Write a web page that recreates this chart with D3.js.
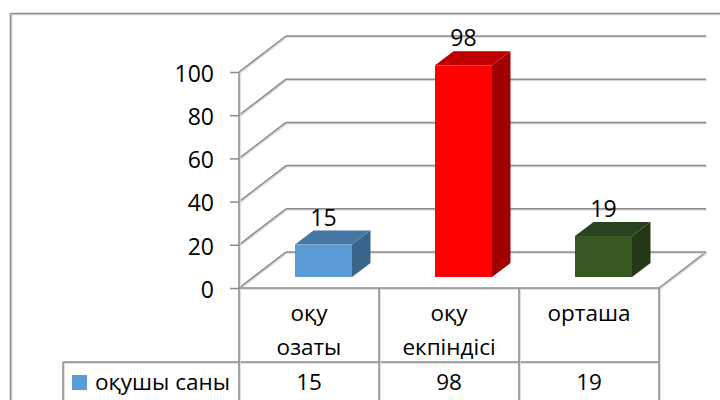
<!DOCTYPE html>
<html>
<head>
<meta charset="utf-8">
<script src="https://cdn.jsdelivr.net/npm/d3@7"></script>
<style>
  body { margin: 0; background: #fff; }
  svg { display: block; }
  text { font-family: "Open Sans", sans-serif; fill: #000; }
</style>
</head>
<body>
<svg id="chart" width="720" height="400"></svg>
<script>
var categories = [["оқу", "озаты"], ["оқу", "екпіндісі"], ["орташа"]];
var values = [15, 98, 19];
var faceColors = ["#5b9bd5", "#ff0000", "#385723"];
var topColors = ["#4577a3", "#c00000", "#2b4220"];
var sideColors = ["#3a6489", "#a00000", "#243818"];
var yTicks = [0, 20, 40, 60, 80, 100];
var seriesName = "оқушы саны";

var svg = d3.select("#chart"),
  lineColor = "#8c8c8c",
  shadowColor = "#d6d6d6",
  depth = {x: 47, y: -36},
  barInset = {x: 14.5, y: -11},
  barDepth = {x: 18.5, y: -14};

var x = d3.scaleBand()
  .domain(d3.range(categories.length))
  .range([239, 659]);

var y = d3.scaleLinear()
  .domain([0, 100])
  .range([288, 72]);

// every rule in the picture has a soft light edge next to it
function line(x1, y1, x2, y2) {
  svg.append("line")
    .attr("x1", x1 + 1).attr("y1", y1 + 1)
    .attr("x2", x2 + 1).attr("y2", y2 + 1)
    .attr("stroke", shadowColor)
    .attr("stroke-width", 1.5);
  svg.append("line")
    .attr("x1", x1).attr("y1", y1)
    .attr("x2", x2).attr("y2", y2)
    .attr("stroke", lineColor)
    .attr("stroke-width", 1.5);
}

// outer frame, right side is cut off
line(10.5, 13.5, 720, 13.5);
line(10.5, 13.5, 10.5, 400);

// walls and floor
line(x.range()[1], y(0), x.range()[1] + depth.x, y(0) + depth.y);

yTicks.forEach(function(t) {
  line(x.range()[0], y(t), x.range()[0] + depth.x, y(t) + depth.y);
  line(x.range()[0] + depth.x, y(t) + depth.y, x.range()[1] + depth.x, y(t) + depth.y);
});

// value axis
line(x.range()[0], y(100), x.range()[0], y(0));
var axis = svg.append("g")
  .attr("class", "axis axis--y")
  .attr("transform", "translate(" + x.range()[0] + ",0)")
  .call(d3.axisLeft(y).tickValues(yTicks).tickSize(9).tickPadding(16));
axis.select(".domain").remove();
axis.selectAll("line").attr("stroke", lineColor).attr("stroke-width", 1.5);
axis.selectAll("text").style("font-size", "23px").attr("dy", "0.4em").attr("fill", "#000");

// bars
var bars = svg.selectAll(".bar")
  .data(values)
  .enter().append("g")
    .attr("class", "bar");

var barWidth = 57;

function barX(i) {
  return x(i) + x.bandwidth() / 2 + barInset.x - barWidth / 2;
}

bars.append("path")
  .attr("fill", function(d, i) { return sideColors[i]; })
  .attr("d", function(d, i) {
    var r = barX(i) + barWidth, t = y(d) + barInset.y, b = y(0) + barInset.y;
    return "M" + r + "," + t + "L" + (r + barDepth.x) + "," + (t + barDepth.y) +
      "V" + (b + barDepth.y) + "L" + r + "," + b + "Z";
  });

bars.append("path")
  .attr("fill", function(d, i) { return topColors[i]; })
  .attr("d", function(d, i) {
    var l = barX(i), t = y(d) + barInset.y;
    return "M" + l + "," + t + "L" + (l + barDepth.x) + "," + (t + barDepth.y) +
      "H" + (l + barWidth + barDepth.x) + "L" + (l + barWidth) + "," + t + "Z";
  });

bars.append("rect")
  .attr("x", function(d, i) { return barX(i); })
  .attr("y", function(d) { return y(d) + barInset.y; })
  .attr("width", barWidth)
  .attr("height", function(d) { return y(0) - y(d); })
  .attr("fill", function(d, i) { return faceColors[i]; });

bars.append("text")
  .attr("x", function(d, i) { return barX(i) + barWidth / 2; })
  .attr("y", function(d) { return y(d) + barInset.y + barDepth.y - 5; })
  .attr("text-anchor", "middle")
  .style("font-size", "23px")
  .text(function(d) { return d; });

// data table
var tableMid = 362;
line(x.range()[0], y(0), x.range()[1], y(0));
line(63, tableMid, x.range()[1], tableMid);
line(63, tableMid, 63, 400);
d3.range(categories.length + 1).forEach(function(i) {
  var vx = i < categories.length ? x(i) : x.range()[1];
  line(vx, y(0), vx, 400);
});

categories.forEach(function(c, i) {
  c.forEach(function(word, k) {
    svg.append("text")
      .attr("x", x(i) + x.bandwidth() / 2)
      .attr("y", 321 + k * 34)
      .attr("text-anchor", "middle")
      .style("font-size", "22.5px")
      .text(word);
  });
  svg.append("text")
    .attr("x", x(i) + x.bandwidth() / 2)
    .attr("y", 390)
    .attr("text-anchor", "middle")
    .style("font-size", "22.5px")
    .text(values[i]);
});

svg.append("rect")
  .attr("x", 72).attr("y", 375)
  .attr("width", 15).attr("height", 15)
  .attr("fill", faceColors[0]);

svg.append("text")
  .attr("x", 95).attr("y", 390)
  .style("font-size", "22.5px")
  .text(seriesName);
</script>
</body>
</html>
